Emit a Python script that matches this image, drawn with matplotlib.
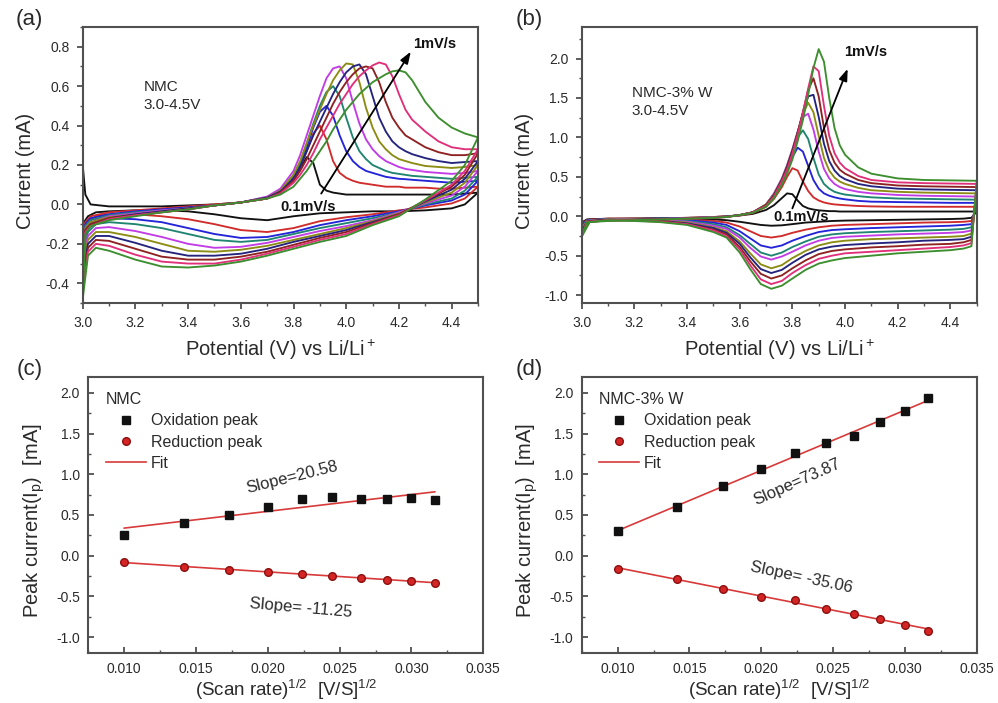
import numpy as np
import matplotlib
matplotlib.use('Agg')
import matplotlib.pyplot as plt
from matplotlib.ticker import MultipleLocator, FormatStrFormatter

plt.rcParams['font.family'] = ['Liberation Sans', 'DejaVu Sans']
plt.rcParams['mathtext.fontset'] = 'custom'
plt.rcParams['mathtext.rm'] = 'Liberation Sans'
plt.rcParams['mathtext.it'] = 'Liberation Sans:italic'
plt.rcParams['mathtext.bf'] = 'Liberation Sans:bold'
plt.rcParams['axes.unicode_minus'] = False

# ---------------- data ----------------
scan_rates = [0.1, 0.2, 0.3, 0.4, 0.5, 0.6, 0.7, 0.8, 0.9, 1.0]   # mV/s
cv_colors = ['#111111', '#D02C2C', '#2424D8', '#1F8570', '#C23CE6',
             '#8C8C14', '#24247E', '#8E2222', '#E0307A', '#3C8E2E']

# (a) NMC, anodic sweep
a_ox_v = [3.00, 3.01, 3.03, 3.10, 3.20, 3.30, 3.40, 3.50, 3.60, 3.70, 3.75, 3.80,
          3.825, 3.85, 3.875, 3.90, 3.925, 3.95, 3.975, 4.00, 4.025, 4.05, 4.075, 4.10,
          4.125, 4.15, 4.175, 4.20, 4.225, 4.25,
          4.30, 4.35, 4.40, 4.45, 4.50]
a_ox_01 = [0.20, 0.05, 0.00, -0.01, -0.01, -0.01, -0.005, 0.0, 0.01, 0.03, 0.06, 0.12,
           0.18, 0.24, 0.21, 0.10, 0.07, 0.06, 0.055, 0.05, 0.05, 0.05, 0.05, 0.05,
           0.05, 0.05, 0.05, 0.05, 0.05, 0.05,
           0.05, 0.05, 0.05, 0.055, 0.06]
a_ox_02 = [-0.15, -0.09, -0.06, -0.04, -0.03, -0.02, -0.01, 0.0, 0.01, 0.03, 0.06, 0.13,
           0.19, 0.27, 0.36, 0.40, 0.33, 0.22, 0.16, 0.135, 0.12, 0.11, 0.105, 0.10,
           0.095, 0.09, 0.09, 0.09, 0.085, 0.085,
           0.085, 0.08, 0.08, 0.085, 0.09]
a_ox_03 = [-0.20, -0.10, -0.07, -0.05, -0.035, -0.025, -0.015, -0.005, 0.01, 0.035, 0.07, 0.14,
           0.20, 0.29, 0.39, 0.47, 0.50, 0.45, 0.35, 0.27, 0.22, 0.19, 0.17, 0.16,
           0.15, 0.14, 0.135, 0.13, 0.128, 0.125,
           0.12, 0.115, 0.11, 0.115, 0.12]
a_ox_04 = [-0.25, -0.11, -0.08, -0.055, -0.04, -0.03, -0.02, -0.005, 0.01, 0.035, 0.07, 0.15,
           0.21, 0.31, 0.41, 0.50, 0.57, 0.60, 0.55, 0.44, 0.34, 0.27, 0.23, 0.20,
           0.185, 0.17, 0.16, 0.155, 0.15, 0.145,
           0.14, 0.135, 0.13, 0.135, 0.14]
a_ox_05 = [-0.28, -0.12, -0.09, -0.06, -0.045, -0.03, -0.02, -0.005, 0.01, 0.04, 0.08, 0.17,
           0.25, 0.35, 0.45, 0.55, 0.64, 0.69, 0.70, 0.64, 0.52, 0.41, 0.33, 0.28,
           0.245, 0.22, 0.205, 0.19, 0.18, 0.175,
           0.165, 0.16, 0.155, 0.16, 0.17]
a_ox_06 = [-0.32, -0.12, -0.09, -0.065, -0.05, -0.035, -0.02, -0.005, 0.01, 0.035, 0.07, 0.15,
           0.22, 0.31, 0.40, 0.48, 0.56, 0.63, 0.68, 0.715, 0.71, 0.62, 0.49, 0.39,
           0.32, 0.28, 0.25, 0.23, 0.22, 0.21,
           0.195, 0.19, 0.185, 0.19, 0.20]
a_ox_07 = [-0.36, -0.13, -0.10, -0.07, -0.05, -0.035, -0.02, -0.005, 0.01, 0.035, 0.065, 0.13,
           0.19, 0.27, 0.35, 0.42, 0.49, 0.56, 0.62, 0.67, 0.70, 0.71, 0.66, 0.55,
           0.44, 0.37, 0.32, 0.29, 0.27, 0.255,
           0.235, 0.22, 0.21, 0.215, 0.22]
a_ox_08 = [-0.40, -0.13, -0.10, -0.07, -0.055, -0.04, -0.025, -0.005, 0.01, 0.03, 0.06, 0.12,
           0.17, 0.23, 0.30, 0.37, 0.44, 0.51, 0.57, 0.62, 0.66, 0.69, 0.70, 0.69,
           0.62, 0.52, 0.44, 0.39, 0.35, 0.33,
           0.29, 0.265, 0.25, 0.25, 0.26]
a_ox_09 = [-0.44, -0.14, -0.11, -0.075, -0.055, -0.04, -0.025, -0.005, 0.01, 0.03, 0.055, 0.11,
           0.15, 0.20, 0.26, 0.33, 0.39, 0.45, 0.51, 0.56, 0.61, 0.65, 0.68, 0.705,
           0.72, 0.71, 0.65, 0.56, 0.48, 0.43,
           0.37, 0.32, 0.29, 0.28, 0.28]
a_ox_10 = [-0.48, -0.15, -0.11, -0.08, -0.06, -0.04, -0.025, -0.005, 0.01, 0.03, 0.05, 0.09,
           0.13, 0.17, 0.22, 0.27, 0.32, 0.38, 0.43, 0.48, 0.52, 0.56, 0.59, 0.62,
           0.64, 0.66, 0.675, 0.68, 0.67, 0.63,
           0.52, 0.44, 0.39, 0.36, 0.34]

# (a) NMC, cathodic sweep
a_red_v = [4.50, 4.45, 4.40, 4.30, 4.20, 4.10, 4.00, 3.90, 3.80, 3.70,
           3.60, 3.50, 3.40, 3.30, 3.20, 3.10, 3.05, 3.02, 3.00]
a_red_01 = [0.06, 0.0, -0.02, -0.03, -0.035, -0.035, -0.04, -0.045, -0.06, -0.08,
            -0.07, -0.05, -0.035, -0.03, -0.03, -0.035, -0.04, -0.06, -0.10]
a_red_02 = [0.09, 0.03, 0.005, -0.015, -0.03, -0.05, -0.065, -0.085, -0.12, -0.14,
            -0.13, -0.10, -0.075, -0.06, -0.05, -0.05, -0.06, -0.09, -0.15]
a_red_03 = [0.12, 0.05, 0.02, -0.005, -0.035, -0.06, -0.08, -0.105, -0.14, -0.165,
            -0.17, -0.15, -0.12, -0.09, -0.075, -0.07, -0.08, -0.12, -0.20]
a_red_04 = [0.14, 0.07, 0.03, 0.0, -0.04, -0.07, -0.095, -0.12, -0.15, -0.18,
            -0.19, -0.18, -0.15, -0.12, -0.10, -0.09, -0.10, -0.14, -0.25]
a_red_05 = [0.17, 0.09, 0.045, 0.005, -0.04, -0.08, -0.11, -0.135, -0.165, -0.195,
            -0.215, -0.22, -0.20, -0.165, -0.135, -0.115, -0.12, -0.16, -0.28]
a_red_06 = [0.20, 0.11, 0.06, 0.01, -0.045, -0.085, -0.12, -0.15, -0.18, -0.21,
            -0.23, -0.24, -0.235, -0.20, -0.165, -0.14, -0.14, -0.18, -0.32]
a_red_07 = [0.22, 0.13, 0.075, 0.015, -0.05, -0.09, -0.13, -0.16, -0.19, -0.225,
            -0.25, -0.26, -0.26, -0.235, -0.195, -0.16, -0.16, -0.20, -0.36]
a_red_08 = [0.26, 0.15, 0.09, 0.02, -0.05, -0.095, -0.14, -0.17, -0.205, -0.24,
            -0.265, -0.28, -0.28, -0.265, -0.225, -0.185, -0.18, -0.22, -0.40]
a_red_09 = [0.28, 0.17, 0.10, 0.02, -0.055, -0.10, -0.15, -0.18, -0.215, -0.25,
            -0.28, -0.30, -0.30, -0.29, -0.255, -0.21, -0.20, -0.24, -0.44]
a_red_10 = [0.34, 0.20, 0.12, 0.025, -0.06, -0.105, -0.16, -0.19, -0.225, -0.26,
            -0.29, -0.31, -0.32, -0.315, -0.28, -0.235, -0.22, -0.26, -0.48]

# (b) NMC-3% W, anodic sweep
b_ox_v = [3.00, 3.02, 3.10, 3.20, 3.30, 3.40, 3.50, 3.55, 3.60, 3.65, 3.70, 3.73,
          3.76, 3.78, 3.80, 3.82, 3.84, 3.86, 3.88, 3.90, 3.92, 3.94, 3.96, 3.98, 4.00,
          4.05, 4.10, 4.20, 4.30, 4.40, 4.50]
b_ox_01 = [-0.08, -0.04, -0.035, -0.03, -0.025, -0.02, -0.01, 0.0, 0.01, 0.03, 0.08, 0.14,
           0.23, 0.29, 0.28, 0.20, 0.13, 0.10, 0.085, 0.075, 0.07, 0.065, 0.065, 0.06, 0.06,
           0.06, 0.06, 0.06, 0.06, 0.06, 0.06]
b_ox_02 = [-0.10, -0.045, -0.04, -0.035, -0.03, -0.02, -0.01, 0.0, 0.01, 0.04, 0.12, 0.22,
           0.37, 0.50, 0.61, 0.58, 0.44, 0.32, 0.24, 0.20, 0.175, 0.16, 0.15, 0.145, 0.14,
           0.13, 0.125, 0.12, 0.12, 0.12, 0.12]
b_ox_03 = [-0.12, -0.05, -0.04, -0.035, -0.03, -0.025, -0.015, -0.005, 0.015, 0.05, 0.14, 0.26,
           0.43, 0.58, 0.75, 0.87, 0.82, 0.64, 0.46, 0.35, 0.29, 0.26, 0.24, 0.225, 0.215,
           0.195, 0.185, 0.18, 0.175, 0.17, 0.17]
b_ox_04 = [-0.14, -0.055, -0.045, -0.04, -0.03, -0.025, -0.015, -0.005, 0.015, 0.05, 0.15, 0.28,
           0.46, 0.62, 0.81, 1.00, 1.09, 0.98, 0.74, 0.53, 0.41, 0.35, 0.31, 0.29, 0.275,
           0.255, 0.24, 0.225, 0.22, 0.215, 0.21]
b_ox_05 = [-0.16, -0.06, -0.045, -0.04, -0.035, -0.025, -0.015, -0.005, 0.015, 0.05, 0.15, 0.29,
           0.48, 0.65, 0.85, 1.07, 1.26, 1.30, 1.10, 0.82, 0.60, 0.48, 0.41, 0.37, 0.345,
           0.31, 0.29, 0.27, 0.26, 0.255, 0.25]
b_ox_06 = [-0.18, -0.06, -0.05, -0.04, -0.035, -0.03, -0.015, -0.005, 0.015, 0.05, 0.15, 0.28,
           0.47, 0.64, 0.84, 1.07, 1.30, 1.44, 1.32, 1.02, 0.74, 0.58, 0.49, 0.44, 0.41,
           0.36, 0.33, 0.31, 0.30, 0.295, 0.29]
b_ox_07 = [-0.20, -0.065, -0.05, -0.045, -0.035, -0.03, -0.02, -0.005, 0.015, 0.05, 0.14, 0.27,
           0.46, 0.63, 0.83, 1.06, 1.31, 1.52, 1.54, 1.26, 0.92, 0.70, 0.58, 0.51, 0.47,
           0.41, 0.38, 0.35, 0.34, 0.335, 0.33]
b_ox_08 = [-0.22, -0.07, -0.055, -0.045, -0.04, -0.03, -0.02, -0.01, 0.015, 0.05, 0.14, 0.26,
           0.45, 0.61, 0.81, 1.05, 1.32, 1.60, 1.75, 1.52, 1.12, 0.84, 0.68, 0.59, 0.54,
           0.46, 0.42, 0.39, 0.38, 0.375, 0.37]
b_ox_09 = [-0.24, -0.07, -0.055, -0.05, -0.04, -0.03, -0.02, -0.01, 0.015, 0.05, 0.13, 0.25,
           0.44, 0.59, 0.79, 1.03, 1.31, 1.62, 1.90, 1.84, 1.40, 1.02, 0.80, 0.68, 0.61,
           0.51, 0.46, 0.43, 0.42, 0.415, 0.41]
b_ox_10 = [-0.26, -0.075, -0.06, -0.05, -0.04, -0.03, -0.02, -0.01, 0.015, 0.045, 0.12, 0.23,
           0.40, 0.54, 0.72, 0.95, 1.22, 1.54, 1.88, 2.12, 1.96, 1.50, 1.12, 0.90, 0.78,
           0.62, 0.54, 0.48, 0.46, 0.455, 0.45]

# (b) NMC-3% W, cathodic sweep
b_red_v = [4.50, 4.48, 4.45, 4.40, 4.30, 4.20, 4.10, 4.00, 3.95, 3.90, 3.85, 3.80, 3.76,
           3.72, 3.68, 3.64, 3.60, 3.55, 3.50, 3.40, 3.30, 3.20, 3.10, 3.03, 3.00]
b_red_01 = [0.06, -0.02, -0.03, -0.035, -0.04, -0.045, -0.05, -0.055, -0.06, -0.07, -0.08, -0.10, -0.115,
            -0.12, -0.11, -0.09, -0.07, -0.05, -0.04, -0.03, -0.03, -0.03, -0.03, -0.04, -0.08]
b_red_02 = [0.12, -0.06, -0.07, -0.075, -0.08, -0.09, -0.10, -0.11, -0.12, -0.14, -0.17, -0.21, -0.25,
            -0.27, -0.25, -0.19, -0.13, -0.08, -0.06, -0.04, -0.035, -0.03, -0.03, -0.045, -0.10]
b_red_03 = [0.17, -0.10, -0.11, -0.12, -0.13, -0.14, -0.15, -0.165, -0.175, -0.20, -0.25, -0.31, -0.37,
            -0.40, -0.37, -0.28, -0.19, -0.11, -0.08, -0.05, -0.04, -0.035, -0.035, -0.05, -0.12]
b_red_04 = [0.21, -0.14, -0.16, -0.17, -0.18, -0.19, -0.20, -0.215, -0.23, -0.26, -0.32, -0.39, -0.46,
            -0.50, -0.46, -0.35, -0.24, -0.14, -0.10, -0.06, -0.045, -0.04, -0.035, -0.05, -0.14]
b_red_05 = [0.25, -0.18, -0.20, -0.21, -0.22, -0.23, -0.245, -0.26, -0.275, -0.31, -0.37, -0.45, -0.51,
            -0.55, -0.51, -0.40, -0.27, -0.16, -0.12, -0.07, -0.05, -0.04, -0.04, -0.055, -0.16]
b_red_06 = [0.29, -0.22, -0.25, -0.26, -0.27, -0.28, -0.29, -0.31, -0.33, -0.37, -0.44, -0.53, -0.62,
            -0.66, -0.61, -0.47, -0.32, -0.19, -0.14, -0.08, -0.055, -0.045, -0.04, -0.06, -0.18]
b_red_07 = [0.33, -0.26, -0.29, -0.30, -0.31, -0.33, -0.345, -0.365, -0.385, -0.42, -0.49, -0.59, -0.68,
            -0.72, -0.67, -0.52, -0.35, -0.21, -0.15, -0.09, -0.06, -0.05, -0.045, -0.06, -0.20]
b_red_08 = [0.37, -0.30, -0.33, -0.35, -0.36, -0.38, -0.395, -0.42, -0.44, -0.48, -0.56, -0.66, -0.75,
            -0.79, -0.73, -0.57, -0.39, -0.23, -0.17, -0.10, -0.065, -0.05, -0.045, -0.065, -0.22]
b_red_09 = [0.41, -0.34, -0.37, -0.39, -0.41, -0.43, -0.45, -0.47, -0.50, -0.54, -0.62, -0.72, -0.82,
            -0.86, -0.80, -0.62, -0.42, -0.25, -0.18, -0.10, -0.07, -0.055, -0.05, -0.07, -0.24]
b_red_10 = [0.45, -0.38, -0.41, -0.43, -0.45, -0.47, -0.50, -0.53, -0.56, -0.60, -0.68, -0.79, -0.88,
            -0.92, -0.86, -0.67, -0.46, -0.27, -0.20, -0.11, -0.075, -0.06, -0.05, -0.075, -0.26]

# (c), (d) peak currents (mA)
c_ox_peak = [0.25, 0.40, 0.50, 0.60, 0.70, 0.72, 0.70, 0.70, 0.71, 0.68]
c_red_peak = [-0.08, -0.135, -0.17, -0.20, -0.23, -0.25, -0.275, -0.295, -0.31, -0.33]
d_ox_peak = [0.30, 0.60, 0.86, 1.07, 1.26, 1.39, 1.47, 1.64, 1.78, 1.94]
d_red_peak = [-0.16, -0.29, -0.41, -0.505, -0.54, -0.65, -0.72, -0.78, -0.85, -0.92]

a_ox = [a_ox_01, a_ox_02, a_ox_03, a_ox_04, a_ox_05, a_ox_06, a_ox_07, a_ox_08, a_ox_09, a_ox_10]
a_red = [a_red_01, a_red_02, a_red_03, a_red_04, a_red_05, a_red_06, a_red_07, a_red_08, a_red_09, a_red_10]
b_ox = [b_ox_01, b_ox_02, b_ox_03, b_ox_04, b_ox_05, b_ox_06, b_ox_07, b_ox_08, b_ox_09, b_ox_10]
b_red = [b_red_01, b_red_02, b_red_03, b_red_04, b_red_05, b_red_06, b_red_07, b_red_08, b_red_09, b_red_10]

sqrt_rate = np.sqrt(np.array(scan_rates) * 1e-3)   # (V/s)^1/2

TXT = '#2a2a2a'
FIT_COLOR = '#D83A3A'
RED_PT = '#D42424'

fig = plt.figure(figsize=(9.98, 7.03), dpi=100)
W, H = 998.0, 703.0


def add_axes(l, r, t, b):
    return fig.add_axes([l / W, 1 - b / H, (r - l) / W, (b - t) / H])


ax_a = add_axes(82.7, 478.0, 27.0, 303.0)
ax_b = add_axes(581.7, 976.7, 27.0, 303.0)
ax_c = add_axes(88.3, 483.3, 376.7, 653.3)
ax_d = add_axes(581.7, 976.7, 376.7, 653.3)


def style(ax, direction):
    for s in ax.spines.values():
        s.set_color('#505050')
        s.set_linewidth(1.5)
    ax.tick_params(which='both', direction=direction, top=False, right=False,
                   colors='#505050', labelcolor=TXT, labelsize=10)
    ax.tick_params(which='major', length=4.5, width=1.3, pad=5)
    ax.tick_params(which='minor', length=2.5, width=1.0)


# ---- CV panels ----
for ax, v_ox, ox, v_red, red in [(ax_a, a_ox_v, a_ox, a_red_v, a_red),
                                 (ax_b, b_ox_v, b_ox, b_red_v, b_red)]:
    for k in range(len(scan_rates)):
        ax.plot(v_ox, ox[k], color=cv_colors[k], lw=1.35, solid_joinstyle='round')
        ax.plot(v_red, red[k], color=cv_colors[k], lw=1.35, solid_joinstyle='round')
    ax.set_xlim(3.0, 4.5)
    ax.xaxis.set_major_locator(MultipleLocator(0.2))
    ax.xaxis.set_minor_locator(MultipleLocator(0.1))
    ax.xaxis.set_major_formatter(FormatStrFormatter('%.1f'))
    ax.yaxis.set_major_formatter(FormatStrFormatter('%.1f'))
    style(ax, 'out')
    ax.set_xlabel('Potential (V) vs Li/Li$^+$', fontsize=14.5, color=TXT)
    ax.xaxis.set_label_coords(0.5, -0.125)
    ax.set_ylabel('Current (mA)', fontsize=14.5, color=TXT)

ax_a.set_ylim(-0.5, 0.9)
ax_a.yaxis.set_major_locator(MultipleLocator(0.2))
ax_a.yaxis.set_minor_locator(MultipleLocator(0.1))
ax_a.yaxis.set_label_coords(-0.12, 0.48)
ax_a.text(3.23, 0.55, 'NMC\n3.0-4.5V', fontsize=11, color=TXT, ha='left', va='center', linespacing=1.35)
ax_a.annotate('', xy=(4.245, 0.775), xytext=(3.905, 0.055),
              arrowprops=dict(arrowstyle='-|>,head_length=0.7,head_width=0.25', color='k', lw=1.3,
                              shrinkA=0, shrinkB=0))
ax_a.text(4.255, 0.815, '1mV/s', fontsize=10.5, fontweight='bold', color='#111', ha='left', va='center')
ax_a.text(3.855, -0.015, '0.1mV/s', fontsize=10.5, fontweight='bold', color='#111', ha='center', va='center')

ax_b.set_ylim(-1.1, 2.4)
ax_b.yaxis.set_major_locator(MultipleLocator(0.5))
ax_b.yaxis.set_minor_locator(MultipleLocator(0.25))
ax_b.yaxis.set_label_coords(-0.12, 0.48)
ax_b.text(3.19, 1.45, 'NMC-3% W\n3.0-4.5V', fontsize=11, color=TXT, ha='left', va='center', linespacing=1.35)
ax_b.annotate('', xy=(4.01, 1.87), xytext=(3.80, 0.10),
              arrowprops=dict(arrowstyle='-|>,head_length=0.7,head_width=0.25', color='k', lw=1.3,
                              shrinkA=0, shrinkB=0))
ax_b.text(3.995, 2.08, '1mV/s', fontsize=10.5, fontweight='bold', color='#111', ha='left', va='center')
ax_b.text(3.834, -0.01, '0.1mV/s', fontsize=10.5, fontweight='bold', color='#111', ha='center', va='center')

# ---- peak current panels ----
for ax, ox, red, title, s_ox, s_red in [
        (ax_c, c_ox_peak, c_red_peak, 'NMC',
         (0.0217, 0.96, 'Slope=20.58', 14), (0.0223, -0.64, 'Slope= -11.25', -5)),
        (ax_d, d_ox_peak, d_red_peak, 'NMC-3% W',
         (0.0225, 0.90, 'Slope=73.87', 24), (0.0228, -0.27, 'Slope= -35.06', -12))]:
    p_ox = np.polyfit(sqrt_rate, ox, 1)
    p_red = np.polyfit(sqrt_rate, red, 1)
    xf = np.array([sqrt_rate[0], sqrt_rate[-1]])
    ax.plot(sqrt_rate, ox, 's', color='#111', ms=5.5, ls='none', label='Oxidation peak', zorder=3)
    ax.plot(sqrt_rate, red, 'o', color=RED_PT, mec='#8a1010', ms=5.5, ls='none', label='Reduction peak', zorder=3)
    ax.plot(xf, np.polyval(p_ox, xf), color=FIT_COLOR, lw=1.2, label='Fit', zorder=2)
    ax.plot(xf, np.polyval(p_red, xf), color=FIT_COLOR, lw=1.2, zorder=2)
    ax.set_xlim(0.0075, 0.035)
    ax.set_ylim(-1.2, 2.2)
    ax.xaxis.set_major_locator(MultipleLocator(0.005))
    ax.xaxis.set_minor_locator(MultipleLocator(0.0025))
    ax.yaxis.set_major_locator(MultipleLocator(0.5))
    ax.yaxis.set_minor_locator(MultipleLocator(0.25))
    ax.xaxis.set_major_formatter(FormatStrFormatter('%.3f'))
    ax.yaxis.set_major_formatter(FormatStrFormatter('%.1f'))
    style(ax, 'in')
    ax.tick_params(which='major', pad=6)
    ax.set_xlabel('(Scan rate)$^{1/2}$  [V/S]$^{1/2}$', fontsize=13.5, color=TXT)
    ax.xaxis.set_label_coords(0.5, -0.09)
    ax.set_ylabel('Peak current(I$_\\mathrm{p}$)  [mA]', fontsize=14.5, color=TXT)
    ax.yaxis.set_label_coords(-0.105, 0.48)
    leg = ax.legend(title=title, loc='upper left', bbox_to_anchor=(0.045, 0.945), frameon=False,
                    fontsize=11.5, title_fontsize=11.5, alignment='left', handlelength=2.5,
                    handletextpad=0.3, labelspacing=0.4, borderpad=0, borderaxespad=0)
    for t in leg.get_texts():
        t.set_color(TXT)
    leg.get_title().set_color(TXT)
    for (x, y, s, rot) in (s_ox, s_red):
        ax.text(x, y, s, fontsize=12, color=TXT, rotation=rot, ha='center', va='center',
                rotation_mode='anchor')

# panel letters
for lbl, x, y in [('(a)', 16, 20), ('(b)', 516, 20), ('(c)', 17, 370), ('(d)', 516, 370)]:
    fig.text(x / W, 1 - y / H, lbl, fontsize=16, color=TXT, ha='left', va='center')

fig.savefig('out.png', dpi=100)
